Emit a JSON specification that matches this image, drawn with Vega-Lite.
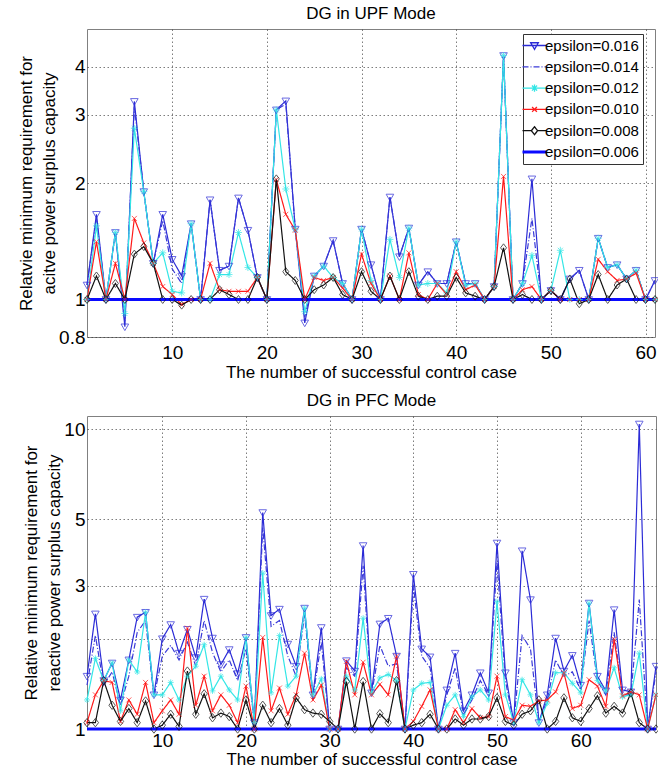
{
  "$schema": "https://vega.github.io/schema/vega-lite/v6.json",
  "padding": {"left": 17, "top": 4, "right": 2, "bottom": 0},
  "background": "white",
  "spacing": 10,
  "config": {
    "font": "Liberation Sans",
    "view": {"stroke": "#808080", "strokeWidth": 1},
    "title": {"font": "Liberation Sans", "fontSize": 17, "fontWeight": "normal", "color": "black", "offset": 6},
    "axis": {
      "labelFont": "Liberation Sans", "labelFontSize": 19, "labelColor": "black",
      "titleFont": "Liberation Sans", "titleFontSize": 17, "titleFontWeight": "normal", "titleColor": "black",
      "domain": false, "ticks": false, "grid": true,
      "gridColor": "#333", "gridDash": [1.5, 2.5], "gridWidth": 0.8, "gridOpacity": 0.8
    },
    "legend": {
      "labelFont": "Liberation Sans", "labelFontSize": 15, "labelColor": "black"
    }
  },
  "datasets": {
    "top": [
      {"n":1,"e016":1.09,"e014":1.09,"e012":1.0,"e010":1.0,"e008":1.0,"e006":1},
      {"n":2,"e016":1.66,"e014":1.62,"e012":1.55,"e010":1.41,"e008":1.15,"e006":1},
      {"n":3,"e016":1.0,"e014":1.0,"e012":1.0,"e010":1.0,"e008":1.0,"e006":1},
      {"n":4,"e016":1.49,"e014":1.49,"e012":1.49,"e010":1.24,"e008":1.10,"e006":1},
      {"n":5,"e016":0.85,"e014":0.88,"e012":0.92,"e010":1.0,"e008":1.0,"e006":1},
      {"n":6,"e016":3.25,"e014":3.15,"e012":2.77,"e010":1.62,"e008":1.31,"e006":1},
      {"n":7,"e016":1.90,"e014":1.90,"e012":1.90,"e010":1.40,"e008":1.37,"e006":1},
      {"n":8,"e016":1.24,"e014":1.24,"e012":1.24,"e010":1.24,"e008":1.24,"e006":1},
      {"n":9,"e016":1.66,"e014":1.60,"e012":1.32,"e010":1.08,"e008":1.0,"e006":1},
      {"n":10,"e016":1.27,"e014":1.20,"e012":1.05,"e010":1.03,"e008":1.0,"e006":1},
      {"n":11,"e016":1.15,"e014":1.10,"e012":1.04,"e010":0.97,"e008":0.967,"e006":1},
      {"n":12,"e016":1.57,"e014":1.57,"e012":1.57,"e010":1.0,"e008":1.0,"e006":1},
      {"n":13,"e016":1.0,"e014":1.0,"e012":1.0,"e010":1.0,"e008":1.0,"e006":1},
      {"n":14,"e016":1.81,"e014":1.81,"e012":1.0,"e010":1.24,"e008":1.0,"e006":1},
      {"n":15,"e016":1.19,"e014":1.19,"e012":1.16,"e010":1.06,"e008":1.06,"e006":1},
      {"n":16,"e016":1.22,"e014":1.22,"e012":1.16,"e010":1.05,"e008":1.03,"e006":1},
      {"n":17,"e016":1.83,"e014":1.83,"e012":1.49,"e010":1.05,"e008":1.0,"e006":1},
      {"n":18,"e016":1.51,"e014":1.51,"e012":1.21,"e010":1.05,"e008":1.0,"e006":1},
      {"n":19,"e016":1.14,"e014":1.14,"e012":1.14,"e010":1.14,"e008":1.14,"e006":1},
      {"n":20,"e016":1.0,"e014":1.0,"e012":1.0,"e010":1.0,"e008":1.0,"e006":1},
      {"n":21,"e016":3.09,"e014":3.09,"e012":3.09,"e010":2.04,"e008":2.05,"e006":1},
      {"n":22,"e016":3.26,"e014":3.20,"e012":1.93,"e010":1.66,"e008":1.18,"e006":1},
      {"n":23,"e016":1.52,"e014":1.52,"e012":1.52,"e010":1.51,"e008":1.12,"e006":1},
      {"n":24,"e016":0.87,"e014":0.90,"e012":0.93,"e010":1.0,"e008":1.0,"e006":1},
      {"n":25,"e016":1.15,"e014":1.15,"e012":1.15,"e010":1.14,"e008":1.06,"e006":1},
      {"n":26,"e016":1.22,"e014":1.22,"e012":1.22,"e010":1.12,"e008":1.09,"e006":1},
      {"n":27,"e016":1.42,"e014":1.42,"e012":1.14,"e010":1.14,"e008":1.14,"e006":1},
      {"n":28,"e016":1.10,"e014":1.10,"e012":1.10,"e010":1.07,"e008":1.03,"e006":1},
      {"n":29,"e016":1.0,"e014":1.0,"e012":1.0,"e010":1.0,"e008":1.0,"e006":1},
      {"n":30,"e016":1.52,"e014":1.52,"e012":1.52,"e010":1.31,"e008":1.18,"e006":1},
      {"n":31,"e016":1.23,"e014":1.23,"e012":1.12,"e010":1.10,"e008":1.05,"e006":1},
      {"n":32,"e016":1.0,"e014":1.0,"e012":1.0,"e010":1.0,"e008":1.0,"e006":1},
      {"n":33,"e016":1.84,"e014":1.84,"e012":1.43,"e010":1.15,"e008":1.15,"e006":1},
      {"n":34,"e016":1.29,"e014":1.29,"e012":1.14,"e010":1.0,"e008":1.0,"e006":1},
      {"n":35,"e016":1.53,"e014":1.53,"e012":1.53,"e010":1.32,"e008":1.18,"e006":1},
      {"n":36,"e016":1.09,"e014":1.09,"e012":1.09,"e010":1.03,"e008":1.02,"e006":1},
      {"n":37,"e016":1.18,"e014":1.18,"e012":1.10,"e010":1.0,"e008":1.0,"e006":1},
      {"n":38,"e016":1.10,"e014":1.10,"e012":1.10,"e010":1.10,"e008":1.02,"e006":1},
      {"n":39,"e016":1.10,"e014":1.10,"e012":1.04,"e010":1.03,"e008":1.02,"e006":1},
      {"n":40,"e016":1.41,"e014":1.41,"e012":1.41,"e010":1.18,"e008":1.14,"e006":1},
      {"n":41,"e016":1.10,"e014":1.10,"e012":1.09,"e010":1.06,"e008":1.04,"e006":1},
      {"n":42,"e016":1.10,"e014":1.10,"e012":1.10,"e010":1.09,"e008":1.02,"e006":1},
      {"n":43,"e016":1.0,"e014":1.0,"e012":1.0,"e010":1.0,"e008":1.0,"e006":1},
      {"n":44,"e016":1.08,"e014":1.08,"e012":1.08,"e010":1.08,"e008":1.08,"e006":1},
      {"n":45,"e016":4.27,"e014":4.27,"e012":4.27,"e010":2.08,"e008":1.36,"e006":1},
      {"n":46,"e016":1.0,"e014":1.0,"e012":1.0,"e010":1.0,"e008":1.0,"e006":1},
      {"n":47,"e016":1.10,"e014":1.10,"e012":1.10,"e010":1.06,"e008":1.03,"e006":1},
      {"n":48,"e016":2.05,"e014":1.62,"e012":1.30,"e010":1.08,"e008":1.0,"e006":1},
      {"n":49,"e016":1.0,"e014":1.0,"e012":1.0,"e010":1.0,"e008":1.0,"e006":1},
      {"n":50,"e016":1.055,"e014":1.055,"e012":1.055,"e010":1.055,"e008":1.055,"e006":1},
      {"n":51,"e016":1.0,"e014":1.0,"e012":1.34,"e010":1.0,"e008":1.0,"e006":1},
      {"n":52,"e016":1.13,"e014":1.13,"e012":1.0,"e010":1.0,"e008":1.13,"e006":1},
      {"n":53,"e016":1.19,"e014":1.19,"e012":1.0,"e010":1.0,"e008":0.975,"e006":1},
      {"n":54,"e016":1.0,"e014":1.0,"e012":1.0,"e010":1.0,"e008":1.0,"e006":1},
      {"n":55,"e016":1.44,"e014":1.44,"e012":1.44,"e010":1.27,"e008":1.16,"e006":1},
      {"n":56,"e016":1.21,"e014":1.21,"e012":1.21,"e010":1.18,"e008":1.0,"e006":1},
      {"n":57,"e016":1.23,"e014":1.23,"e012":1.23,"e010":1.12,"e008":1.09,"e006":1},
      {"n":58,"e016":1.13,"e014":1.13,"e012":1.13,"e010":1.13,"e008":1.13,"e006":1},
      {"n":59,"e016":1.19,"e014":1.19,"e012":1.19,"e010":1.17,"e008":1.0,"e006":1},
      {"n":60,"e016":1.0,"e014":1.0,"e012":1.0,"e010":1.0,"e008":1.0,"e006":1},
      {"n":61,"e016":1.12,"e014":1.12,"e012":1.0,"e010":1.0,"e008":1.0,"e006":1}
    ],
    "bottom": [
      {"n":1,"e016":1.50,"e014":1.40,"e012":1.25,"e010":1.05,"e008":1.05,"e006":1},
      {"n":2,"e016":2.42,"e014":2.05,"e012":1.72,"e010":1.30,"e008":1.05,"e006":1},
      {"n":3,"e016":1.45,"e014":1.40,"e012":1.45,"e010":1.45,"e008":1.45,"e006":1},
      {"n":4,"e016":1.66,"e014":1.55,"e012":1.66,"e010":1.43,"e008":1.20,"e006":1},
      {"n":5,"e016":1.25,"e014":1.20,"e012":1.15,"e010":1.06,"e008":1.06,"e006":1},
      {"n":6,"e016":1.70,"e014":1.50,"e012":1.70,"e010":1.25,"e008":1.17,"e006":1},
      {"n":7,"e016":2.36,"e014":2.10,"e012":1.55,"e010":1.12,"e008":1.05,"e006":1},
      {"n":8,"e016":2.45,"e014":2.30,"e012":2.45,"e010":1.43,"e008":1.24,"e006":1},
      {"n":9,"e016":1.30,"e014":1.28,"e012":1.30,"e010":1.05,"e008":1.0,"e006":1},
      {"n":10,"e016":2.0,"e014":1.75,"e012":1.30,"e010":1.15,"e008":1.03,"e006":1},
      {"n":11,"e016":2.23,"e014":1.90,"e012":1.43,"e010":1.25,"e008":1.12,"e006":1},
      {"n":12,"e016":1.79,"e014":1.70,"e012":1.25,"e010":1.12,"e008":1.02,"e006":1},
      {"n":13,"e016":2.15,"e014":1.95,"e012":1.50,"e010":2.17,"e008":1.56,"e006":1},
      {"n":14,"e016":1.73,"e014":1.62,"e012":1.62,"e010":1.20,"e008":1.12,"e006":1},
      {"n":15,"e016":2.71,"e014":2.30,"e012":1.91,"e010":1.50,"e008":1.31,"e006":1},
      {"n":16,"e016":2.01,"e014":1.80,"e012":1.34,"e010":1.15,"e008":1.09,"e006":1},
      {"n":17,"e016":1.64,"e014":1.55,"e012":1.50,"e010":1.30,"e008":1.13,"e006":1},
      {"n":18,"e016":1.84,"e014":1.70,"e012":1.35,"e010":1.20,"e008":1.10,"e006":1},
      {"n":19,"e016":1.53,"e014":1.45,"e012":1.25,"e010":1.05,"e008":1.0,"e006":1},
      {"n":20,"e016":2.02,"e014":1.85,"e012":2.02,"e010":1.39,"e008":1.25,"e006":1},
      {"n":21,"e016":1.05,"e014":1.05,"e012":1.05,"e010":1.0,"e008":1.0,"e006":1},
      {"n":22,"e016":5.27,"e014":4.70,"e012":3.31,"e010":2.02,"e008":1.20,"e006":1},
      {"n":23,"e016":2.39,"e014":2.20,"e012":1.32,"e010":1.15,"e008":1.05,"e006":1},
      {"n":24,"e016":2.51,"e014":2.30,"e012":2.05,"e010":1.37,"e008":1.17,"e006":1},
      {"n":25,"e016":1.92,"e014":1.75,"e012":1.39,"e010":1.12,"e008":1.03,"e006":1},
      {"n":26,"e016":1.62,"e014":1.50,"e012":1.50,"e010":1.30,"e008":1.27,"e006":1},
      {"n":27,"e016":2.53,"e014":2.40,"e012":2.53,"e010":1.79,"e008":1.16,"e006":1},
      {"n":28,"e016":1.30,"e014":1.28,"e012":1.30,"e010":1.25,"e008":1.13,"e006":1},
      {"n":29,"e016":2.18,"e014":1.95,"e012":1.47,"e010":1.40,"e008":1.12,"e006":1},
      {"n":30,"e016":1.0,"e014":1.0,"e012":1.0,"e010":1.0,"e008":1.06,"e006":1},
      {"n":31,"e016":1.0,"e014":1.0,"e012":1.0,"e010":1.0,"e008":1.0,"e006":1},
      {"n":32,"e016":1.69,"e014":1.60,"e012":1.50,"e010":1.68,"e008":1.44,"e006":1},
      {"n":33,"e016":1.56,"e014":1.50,"e012":1.35,"e010":1.30,"e008":1.0,"e006":1},
      {"n":34,"e016":4.09,"e014":3.50,"e012":2.34,"e010":1.67,"e008":1.44,"e006":1},
      {"n":35,"e016":1.32,"e014":1.30,"e012":1.32,"e010":1.30,"e008":1.0,"e006":1},
      {"n":36,"e016":2.24,"e014":1.90,"e012":1.48,"e010":1.41,"e008":1.125,"e006":1},
      {"n":37,"e016":2.34,"e014":1.62,"e012":1.52,"e010":1.30,"e008":1.05,"e006":1},
      {"n":38,"e016":1.75,"e014":1.65,"e012":1.45,"e010":1.75,"e008":1.45,"e006":1},
      {"n":39,"e016":1.0,"e014":1.0,"e012":1.0,"e010":1.0,"e008":1.0,"e006":1},
      {"n":40,"e016":3.28,"e014":3.00,"e012":1.35,"e010":1.06,"e008":1.03,"e006":1},
      {"n":41,"e016":1.85,"e014":1.75,"e012":1.42,"e010":1.19,"e008":1.05,"e006":1},
      {"n":42,"e016":1.74,"e014":1.60,"e012":1.43,"e010":1.35,"e008":1.12,"e006":1},
      {"n":43,"e016":1.0,"e014":1.0,"e012":1.0,"e010":1.0,"e008":1.0,"e006":1},
      {"n":44,"e016":1.35,"e014":1.30,"e012":1.20,"e010":1.0,"e008":1.0,"e006":1},
      {"n":45,"e016":1.79,"e014":1.60,"e012":1.30,"e010":1.16,"e008":1.08,"e006":1},
      {"n":46,"e016":1.15,"e014":1.12,"e012":1.10,"e010":1.05,"e008":1.03,"e006":1},
      {"n":47,"e016":1.30,"e014":1.25,"e012":1.28,"e010":1.17,"e008":1.08,"e006":1},
      {"n":48,"e016":1.54,"e014":1.45,"e012":1.35,"e010":1.09,"e008":1.08,"e006":1},
      {"n":49,"e016":1.32,"e014":1.30,"e012":1.25,"e010":1.10,"e008":1.10,"e006":1},
      {"n":50,"e016":4.17,"e014":3.60,"e012":2.66,"e010":1.50,"e008":1.27,"e006":1},
      {"n":51,"e016":1.54,"e014":1.45,"e012":1.30,"e010":1.10,"e008":1.06,"e006":1},
      {"n":52,"e016":1.05,"e014":1.05,"e012":1.05,"e010":1.07,"e008":1.03,"e006":1},
      {"n":53,"e016":3.93,"e014":2.05,"e012":1.46,"e010":1.20,"e008":1.12,"e006":1},
      {"n":54,"e016":2.70,"e014":1.85,"e012":1.30,"e010":1.19,"e008":1.15,"e006":1},
      {"n":55,"e016":1.05,"e014":1.05,"e012":1.05,"e010":1.24,"e008":1.25,"e006":1},
      {"n":56,"e016":1.30,"e014":1.25,"e012":1.22,"e010":1.25,"e008":1.0,"e006":1},
      {"n":57,"e016":2.01,"e014":1.70,"e012":1.54,"e010":1.33,"e008":1.06,"e006":1},
      {"n":58,"e016":1.56,"e014":1.50,"e012":1.54,"e010":1.54,"e008":1.27,"e006":1},
      {"n":59,"e016":1.76,"e014":1.55,"e012":1.42,"e010":1.17,"e008":1.09,"e006":1},
      {"n":60,"e016":1.40,"e014":1.35,"e012":1.32,"e010":1.20,"e008":1.06,"e006":1},
      {"n":61,"e016":2.63,"e014":2.30,"e012":2.63,"e010":1.46,"e008":1.17,"e006":1},
      {"n":62,"e016":1.50,"e014":1.45,"e012":1.45,"e010":1.39,"e008":1.29,"e006":1},
      {"n":63,"e016":1.34,"e014":1.30,"e012":1.34,"e010":1.19,"e008":1.13,"e006":1},
      {"n":64,"e016":2.50,"e014":2.10,"e012":1.60,"e010":1.99,"e008":1.19,"e006":1},
      {"n":65,"e016":1.35,"e014":1.30,"e012":1.28,"e010":1.29,"e008":1.13,"e006":1},
      {"n":66,"e016":1.33,"e014":1.30,"e012":1.30,"e010":1.33,"e008":1.32,"e006":1},
      {"n":67,"e016":10.4,"e014":2.70,"e012":1.79,"e010":1.30,"e008":1.05,"e006":1},
      {"n":68,"e016":1.0,"e014":1.0,"e012":1.0,"e010":1.0,"e008":1.0,"e006":1},
      {"n":69,"e016":1.62,"e014":1.55,"e012":1.30,"e010":1.30,"e008":1.0,"e006":1}
    ]
  },
  "vconcat": [
    {
      "width": 568, "height": 308,
      "title": {"text": "DG in UPF Mode"},
      "data": {"name": "top"},
      "transform": [{"fold": ["e016","e014","e012","e010","e008","e006"], "as": ["eps","v"]}],
      "encoding": {
        "x": {"field": "n", "type": "quantitative", "scale": {"domain": [1, 61], "nice": false, "zero": false},
              "axis": {"values": [10,20,30,40,50,60], "title": "The number of successful control case", "labelPadding": 6, "titlePadding": 2}},
        "y": {"field": "v", "type": "quantitative", "scale": {"type": "log", "domain": [0.8, 5], "nice": false},
              "axis": {"values": [0.8,1,2,3,4], "format": "~g", "labelPadding": 2, "titlePadding": 0,
                       "title": ["Relatvie minimum requirement for", "acitve power surplus capacity"], "titleLineHeight": 23}}
      },
      "layer": [
        {
          "mark": {"type": "line", "clip": false},
          "encoding": {
            "color": {"field": "eps", "type": "nominal",
                      "scale": {"domain": ["e016","e014","e012","e010","e008","e006"], "range": ["#2b2bd6","#3a3ad8","#33e6e6","#ff1a1a","#111111","#0a0aff"]},
                      "legend": {"orient": "none", "legendX": 436, "legendY": 5, "title": null, "symbolType": "stroke", "symbolSize": 576,
                                 "labelExpr": "'epsilon=0.' + slice(datum.label, 1)",
                                 "strokeColor": "#333", "fillColor": "white", "padding": 4, "rowPadding": 5.3, "labelOffset": 3, "symbolStrokeWidth": 1.3,
                                 "encode": {"symbols": {"update": {
                                   "strokeWidth": {"signal": "datum.value === 'e006' ? 3 : 1.3"},
                                   "fill": {"value": "transparent"},
                                   "shape": {"signal": "datum.value === 'e016' ? 'M-1,0L1,0M-0.32,-0.23L0.32,-0.23L0,0.32Z' : datum.value === 'e012' ? 'M-1,0L1,0M-0.3,0L0.3,0M0,-0.3L0,0.3M-0.21,-0.21L0.21,0.21M-0.21,0.21L0.21,-0.21' : datum.value === 'e010' ? 'M-1,0L1,0M-0.2,-0.2L0.2,0.2M-0.2,0.2L0.2,-0.2' : datum.value === 'e008' ? 'M-1,0L-0.26,0M0.26,0L1,0M0,-0.33L0.26,0L0,0.33L-0.26,0Z' : 'M-1,0L1,0'"}
                                 }}}}},
            "strokeDash": {"field": "eps", "type": "nominal",
                      "scale": {"domain": ["e016","e014","e012","e010","e008","e006"], "range": [[1,0],[6,2,1,2],[1,0],[1,0],[1,0],[1,0]]},
                      "legend": {"orient": "none", "legendX": 436, "legendY": 5, "title": null, "symbolType": "stroke", "symbolSize": 576,
                                 "labelExpr": "'epsilon=0.' + slice(datum.label, 1)",
                                 "strokeColor": "#333", "fillColor": "white", "padding": 4, "rowPadding": 5.3, "labelOffset": 3, "symbolStrokeWidth": 1.3}},
            "strokeWidth": {"condition": {"test": "datum.eps === 'e006'", "value": 3}, "value": 1.2},
            "order": {"field": "n", "type": "quantitative"}
          }
        },
        {
          "transform": [{"filter": "datum.eps === 'e016'"}],
          "mark": {"type": "point", "filled": false, "size": 400, "strokeWidth": 1, "clip": false, "color": "#2b2bd6", "shape": "M-0.38,-0.28L0.38,-0.28L0,0.38Z"}
        },
        {
          "transform": [{"filter": "datum.eps === 'e012'"}],
          "mark": {"type": "point", "filled": false, "size": 400, "strokeWidth": 1, "clip": false, "color": "#33e6e6", "shape": "M-0.35,0L0.35,0M0,-0.35L0,0.35M-0.25,-0.25L0.25,0.25M-0.25,0.25L0.25,-0.25"}
        },
        {
          "transform": [{"filter": "datum.eps === 'e010'"}],
          "mark": {"type": "point", "filled": false, "size": 400, "strokeWidth": 1, "clip": false, "color": "#ff1a1a", "shape": "M-0.25,-0.25L0.25,0.25M-0.25,0.25L0.25,-0.25"}
        },
        {
          "transform": [{"filter": "datum.eps === 'e008'"}],
          "mark": {"type": "point", "filled": false, "size": 400, "strokeWidth": 1, "clip": false, "color": "#111111", "shape": "M0,-0.4L0.3,0L0,0.4L-0.3,0Z"}
        }
      ]
    },
    {
      "width": 569, "height": 313,
      "title": {"text": "DG in PFC Mode"},
      "data": {"name": "bottom"},
      "transform": [{"fold": ["e016","e014","e012","e010","e008","e006"], "as": ["eps","v"]}],
      "encoding": {
        "x": {"field": "n", "type": "quantitative", "scale": {"domain": [1, 69], "nice": false, "zero": false},
              "axis": {"values": [10,20,30,40,50,60], "title": "The number of successful control case", "labelPadding": 2, "titlePadding": 1}},
        "y": {"field": "v", "type": "quantitative", "scale": {"type": "log", "domain": [1, 11.06], "nice": false},
              "axis": {"values": [1,2,3,5,10], "format": "~g", "labelExpr": "datum.value == 2 ? '' : datum.label", "labelPadding": 2, "titlePadding": 0,
                       "title": ["Relative minimum requirement for", "reactive power surplus capacity"], "titleLineHeight": 23}}
      },
      "layer": [
        {
          "mark": {"type": "line", "clip": false},
          "encoding": {
            "color": {"field": "eps", "type": "nominal",
                      "scale": {"domain": ["e016","e014","e012","e010","e008","e006"], "range": ["#2b2bd6","#3a3ad8","#33e6e6","#ff1a1a","#111111","#0a0aff"]},
                      "legend": {"orient": "none", "legendX": 411, "legendY": 8, "title": null, "symbolType": "stroke", "symbolSize": 576,
                                 "labelExpr": "'epsilon=0.' + slice(datum.label, 1)",
                                 "strokeColor": "#333", "fillColor": "white", "padding": 4, "rowPadding": 4, "labelOffset": 3, "symbolStrokeWidth": 1.3,
                                 "encode": {"symbols": {"update": {
                                   "strokeWidth": {"signal": "datum.value === 'e006' ? 3 : 1.3"},
                                   "fill": {"value": "transparent"},
                                   "shape": {"signal": "datum.value === 'e016' ? 'M-1,0L1,0M-0.32,-0.23L0.32,-0.23L0,0.32Z' : datum.value === 'e012' ? 'M-1,0L1,0M-0.25,0L0.25,0M0,-0.25L0,0.25M-0.18,-0.18L0.18,0.18M-0.18,0.18L0.18,-0.18' : datum.value === 'e010' ? 'M-1,0L1,0M-0.2,-0.2L0.2,0.2M-0.2,0.2L0.2,-0.2' : datum.value === 'e008' ? 'M-1,0L-0.27,0M0.27,0L1,0M0,-0.35L0.27,0L0,0.35L-0.27,0Z' : 'M-1,0L1,0'"}
                                 }}}}},
            "strokeDash": {"field": "eps", "type": "nominal",
                      "scale": {"domain": ["e016","e014","e012","e010","e008","e006"], "range": [[1,0],[1.5,1.5],[1,0],[1,0],[1,0],[1,0]]},
                      "legend": {"orient": "none", "legendX": 411, "legendY": 8, "title": null, "symbolType": "stroke", "symbolSize": 576,
                                 "labelExpr": "'epsilon=0.' + slice(datum.label, 1)",
                                 "strokeColor": "#333", "fillColor": "white", "padding": 4, "rowPadding": 4, "labelOffset": 3, "symbolStrokeWidth": 1.3}},
            "strokeWidth": {"condition": {"test": "datum.eps === 'e006'", "value": 3}, "value": 1.2},
            "order": {"field": "n", "type": "quantitative"}
          }
        },
        {
          "transform": [{"filter": "datum.eps === 'e016'"}],
          "mark": {"type": "point", "filled": false, "size": 400, "strokeWidth": 1, "clip": false, "color": "#2b2bd6", "shape": "M-0.38,-0.28L0.38,-0.28L0,0.38Z"}
        },
        {
          "transform": [{"filter": "datum.eps === 'e012'"}],
          "mark": {"type": "point", "filled": false, "size": 400, "strokeWidth": 1, "clip": false, "color": "#33e6e6", "shape": "M-0.3,0L0.3,0M0,-0.3L0,0.3M-0.21,-0.21L0.21,0.21M-0.21,0.21L0.21,-0.21"}
        },
        {
          "transform": [{"filter": "datum.eps === 'e010'"}],
          "mark": {"type": "point", "filled": false, "size": 400, "strokeWidth": 1, "clip": false, "color": "#ff1a1a", "shape": "M-0.25,-0.25L0.25,0.25M-0.25,0.25L0.25,-0.25"}
        },
        {
          "transform": [{"filter": "datum.eps === 'e008'"}],
          "mark": {"type": "point", "filled": false, "size": 400, "strokeWidth": 1, "clip": false, "color": "#111111", "shape": "M0,-0.42L0.32,0L0,0.42L-0.32,0Z"}
        }
      ]
    }
  ]
}
